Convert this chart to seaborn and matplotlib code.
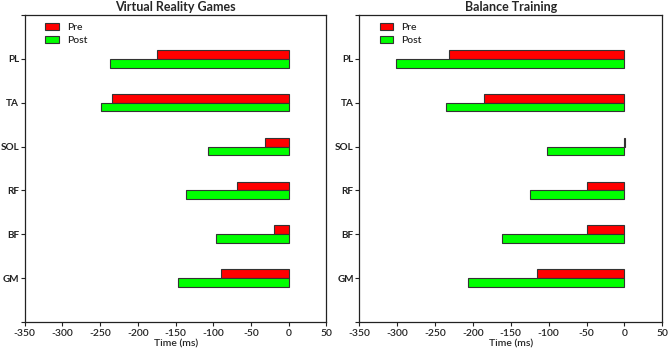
import pandas as pd
import numpy as np
import matplotlib
matplotlib.use('Agg')
import matplotlib.pyplot as plt
import seaborn as sns

muscles = ["PL", "TA", "SOL", "RF", "BF", "GM"]
vr_pre = [-175, -234, -31, -69, -19, -90]
vr_post = [-237, -249, -107, -136, -96, -147]
bt_pre = [-232, -185, 0.8, -50, -50, -116]
bt_post = [-301, -235, -102, -125, -162, -206]

def make_df(pre, post):
    return pd.DataFrame({
        "Muscle": muscles * 2,
        "Time": list(pre) + list(post),
        "Phase": ["Pre"] * len(muscles) + ["Post"] * len(muscles),
    })

sns.set_style("white")
plt.rcParams['font.family'] = ['Lato', 'DejaVu Sans']

fig = plt.figure(figsize=(6.69, 3.55), dpi=100)
ax1 = fig.add_axes([0.037, 0.093, 0.451, 0.865])
ax2 = fig.add_axes([0.537, 0.093, 0.453, 0.865])

palette = {"Pre": "#ff0000", "Post": "#00ff00"}

for ax, pre, post, title in [(ax1, vr_pre, vr_post, "Virtual Reality Games"),
                              (ax2, bt_pre, bt_post, "Balance Training")]:
    df = make_df(pre, post)
    sns.barplot(data=df, x="Time", y="Muscle", hue="Phase", order=muscles,
                hue_order=["Pre", "Post"], palette=palette, width=0.4,
                orient="h", ax=ax, saturation=1, errorbar=None)
    for patch in ax.patches:
        patch.set_edgecolor("#333333")
        patch.set_linewidth(0.8)
    ax.set_ylim(6, -1)
    ax.set_yticks(range(-1, 7))
    ax.set_yticklabels([""] + muscles + [""], fontsize=7.2, fontweight="bold")
    ax.set_xlim(-350, 50)
    ax.set_xticks(range(-350, 51, 50))
    ax.set_xticklabels([str(v) for v in range(-350, 51, 50)], fontsize=7.5,
                       fontweight="semibold")
    ax.set_xlabel("Time (ms)", fontsize=7.5, labelpad=1, fontweight="semibold")
    ax.set_ylabel("")
    ax.set_title(title, fontsize=9, fontweight="bold", pad=3)
    ax.tick_params(axis="both", direction="out", length=3, width=0.8,
                   left=True, bottom=True, pad=2, colors="#222222")
    ax.tick_params(axis="y", pad=1)
    for s in ax.spines.values():
        s.set_color("#222222")
        s.set_linewidth(0.9)
    leg = ax.legend(loc="upper left", frameon=False, fontsize=7.5,
                    handlelength=1.3, handleheight=0.6, borderaxespad=0.4,
                    labelspacing=0.4, bbox_to_anchor=(0.04, 1.0))
    for t in leg.get_texts():
        t.set_fontweight("semibold")

fig.savefig("out.png", dpi=100)
